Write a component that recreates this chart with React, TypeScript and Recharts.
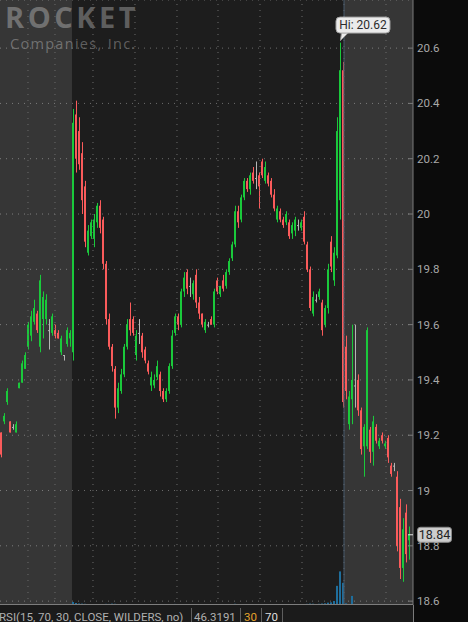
import React from 'react';
import { ComposedChart, Bar, XAxis, YAxis, CartesianGrid, ReferenceArea, ReferenceLine, ReferenceDot } from 'recharts';

// one bar per slot; null = no trade in that slot
const opens = [
  19.21, 19.25, 19.32, 19.25, 19.23, 19.21, 19.37, 19.39, 19.44, 19.52,
  19.56, 19.61, 19.64, 19.52, 19.62, 19.62, 19.58, 19.57, 19.58, 19.57,
  19.50, 19.49, 19.53, 19.55, 19.50, 20.36, 20.30, 20.22, 20.10, 19.86,
  19.92, 19.91, 19.97, 20.03, 19.98, 19.82, 19.62, 19.52, 19.44, 19.30,
  19.36, 19.42, 19.52, 19.62, 19.62, 19.49, 19.57, 19.56, 19.51, 19.46,
  19.38, 19.38, 19.41, 19.42, 19.36, 19.33, 19.36, 19.45, 19.57, 19.63,
  19.60, 19.72, 19.79, 19.74, 19.71, 19.78, 19.68, 19.64, 19.58, 19.60,
  19.62, 19.60, 19.76, 19.71, 19.76, 19.74, 19.79, 19.84, 19.89, 20.01,
  19.98, 20.06, 20.12, 20.09, 20.15, 20.13, 20.14, 20.19, 20.12, 20.14,
  20.12, 20.07, 19.98, 20.01, 19.98, 19.97, 19.97, 19.93, 19.94, 19.96,
  19.95, 19.99, 19.89, 19.80, 19.64, 19.69, 19.70, 19.68, 19.60, 19.66,
  19.90, 19.76, 19.85, 20.05, 20.52, 19.52, 19.24, 19.33, 19.38, 19.40,
  19.29, 19.16, 19.16, 19.22, 19.14, 19.23, 19.16, 19.20, 19.16, 19.19,
  19.09, 19.09, 19.05, 18.94, 18.72, 18.92, 18.82,
];
const highs = [
  19.21, 19.28, 19.37, 19.25, 19.24, 19.25, 19.39, 19.47, 19.50, 19.61,
  19.65, 19.69, 19.65, 19.78, 19.72, 19.71, 19.62, 19.64, 19.60, 19.58,
  19.56, 19.49, 19.59, 19.58, 20.38, 20.41, 20.35, 20.26, 20.12, 19.96,
  19.98, 20.00, 20.04, 20.05, 19.99, 19.83, 19.64, 19.53, 19.45, 19.39,
  19.44, 19.53, 19.62, 19.68, 19.63, 19.58, 19.62, 19.57, 19.52, 19.47,
  19.43, 19.42, 19.47, 19.43, 19.37, 19.37, 19.46, 19.58, 19.64, 19.64,
  19.73, 19.79, 19.80, 19.77, 19.76, 19.80, 19.70, 19.64, 19.62, 19.61,
  19.63, 19.73, 19.77, 19.74, 19.78, 19.80, 19.84, 19.90, 20.03, 20.03,
  20.07, 20.13, 20.13, 20.15, 20.17, 20.19, 20.15, 20.20, 20.19, 20.15,
  20.13, 20.09, 20.03, 20.02, 19.99, 20.01, 19.98, 19.97, 19.99, 19.98,
  19.98, 20.01, 19.90, 19.81, 19.72, 19.71, 19.73, 19.69, 19.67, 19.82,
  19.92, 19.88, 20.35, 20.62, 20.55, 19.56, 19.36, 19.60, 19.60, 19.42,
  19.30, 19.24, 19.59, 19.23, 19.27, 19.24, 19.19, 19.21, 19.18, 19.20,
  19.10, 19.10, 19.07, 18.97, 18.90, 18.95, 18.87,
];
const lows = [
  19.12, 19.24, 19.31, 19.21, 19.22, 19.21, 19.37, 19.39, 19.44, 19.51,
  19.54, 19.60, 19.57, 19.50, 19.55, 19.60, 19.51, 19.56, 19.55, 19.55,
  19.49, 19.47, 19.52, 19.52, 19.47, 20.15, 20.16, 20.00, 19.88, 19.85,
  19.91, 19.88, 19.95, 19.93, 19.80, 19.60, 19.51, 19.43, 19.26, 19.28,
  19.35, 19.41, 19.51, 19.56, 19.56, 19.47, 19.53, 19.48, 19.46, 19.42,
  19.36, 19.37, 19.40, 19.34, 19.32, 19.32, 19.35, 19.44, 19.56, 19.58,
  19.59, 19.70, 19.71, 19.70, 19.69, 19.66, 19.62, 19.59, 19.57, 19.59,
  19.60, 19.59, 19.71, 19.70, 19.72, 19.73, 19.78, 19.83, 19.88, 19.95,
  19.97, 20.05, 20.08, 20.07, 20.11, 20.09, 20.02, 20.13, 20.11, 20.10,
  20.06, 20.01, 19.97, 19.97, 19.95, 19.96, 19.91, 19.91, 19.92, 19.94,
  19.94, 19.89, 19.79, 19.65, 19.63, 19.68, 19.69, 19.56, 19.59, 19.64,
  19.79, 19.74, 19.84, 19.98, 19.30, 19.33, 19.22, 19.24, 19.30, 19.27,
  19.13, 19.05, 19.15, 19.10, 19.09, 19.17, 19.15, 19.17, 19.15, 19.10,
  19.05, 19.07, 18.78, 18.68, 18.67, 18.74, 18.75,
];
const closes = [
  19.13, 19.27, 19.36, 19.21, 19.23, 19.24, 19.39, 19.46, 19.49, 19.60,
  19.63, 19.66, 19.58, 19.76, 19.70, 19.69, 19.58, 19.63, 19.56, 19.55,
  19.55, 19.49, 19.58, 19.57, 20.33, 20.20, 20.18, 20.05, 19.90, 19.94,
  19.97, 19.98, 20.03, 19.95, 19.82, 19.62, 19.52, 19.45, 19.30, 19.37,
  19.42, 19.52, 19.60, 19.58, 19.57, 19.56, 19.57, 19.50, 19.47, 19.43,
  19.41, 19.40, 19.45, 19.36, 19.33, 19.36, 19.45, 19.56, 19.63, 19.60,
  19.72, 19.77, 19.73, 19.74, 19.75, 19.68, 19.64, 19.60, 19.61, 19.60,
  19.60, 19.72, 19.72, 19.74, 19.73, 19.79, 19.83, 19.89, 20.01, 19.97,
  20.06, 20.12, 20.09, 20.14, 20.12, 20.13, 20.10, 20.14, 20.17, 20.11,
  20.07, 20.02, 20.02, 19.98, 19.96, 20.00, 19.92, 19.96, 19.98, 19.96,
  19.97, 19.90, 19.80, 19.66, 19.70, 19.69, 19.72, 19.58, 19.66, 19.80,
  19.81, 19.86, 20.30, 20.52, 19.32, 19.36, 19.34, 19.40, 19.38, 19.29,
  19.15, 19.23, 19.58, 19.14, 19.25, 19.18, 19.18, 19.18, 19.17, 19.12,
  19.06, 19.09, 18.80, 18.72, 18.86, 18.77, 18.84,
];
const volumes = [
  600, 400, 500, 300, 200, 300, 500, 400, 600, 700,
  800, 900, 500, 1500, 900, 700, 600, 500, 400, 400,
  500, 300, 600, 700, 9000, 6000, 4500, 4000, 3500, 3000,
  2600, 2400, 2800, 2200, 3000, 3400, 3200, 4000, 3600, 2800,
  2400, 2600, 3000, 2800, 2200, 2600, 2000, 2400, 2200, 2000,
  2600, 2400, 2200, 2800, 3000, 2600, 2400, 2800, 3200, 2600,
  2400, 2200, 2000, 2400, 2600, 2200, 2000, 1800, 2200, 2400,
  2000, 2600, 2200, 2000, 2400, 2600, 2800, 3000, 3600, 2600,
  2400, 2800, 2200, 2400, 2000, 2200, 2600, 2800, 2400, 2200,
  2000, 2400, 2200, 2000, 1800, 2200, 2400, 2000, 2200, 2600,
  2400, 3000, 3400, 4200, 3800, 3000, 3600, 4400, 5000, 7000,
  8000, 12000, 57000, 100000, 66000, 5000, 2000, 27000, 3000, 1500,
  1500, 1200, 2000, 1500, 1200, 1000, 1000, 1200, 1000, 1500,
  1200, 1000, 2000, 1800, 1500, 1200, 1000,
];

const priceTicks = [18.6, 18.8, 19, 19.2, 19.4, 19.6, 19.8, 20, 20.2, 20.4, 20.6];
const hourMarks = [9.33, 18.33, 31, 45, 59, 72.67, 86.67, 100.67, 114.67, 128.67];
const sessionOpen = 24;
const sessionClose = 114.67;
const slotSpan = 137.67;
const dayHigh = 20.62;
const dayHighSlot = 113.5;
const lastPrice = 18.84;

const GREEN = '#1ac93b';
const RED = '#fa5b5b';
const GRAY = '#b5b5b5';

const data = opens.map((o, i) => ({
  t: i + 0.5,
  o,
  h: highs[i],
  l: lows[i],
  c: closes[i],
  range: [lows[i], highs[i]],
  vol: volumes[i],
}));

const Candle = (props: any) => {
  const { x, y, width, height, payload } = props;
  if (!payload || payload.o == null) return null;
  const { o, h, l, c } = payload;
  const mid = Math.round(x + width / 2);
  const top = Math.min(y, y + height);
  const span = Math.abs(height);
  const k = h > l ? span / (h - l) : 0;
  const yo = top + (h - o) * k;
  const yc = top + (h - c) * k;
  const color = c > o ? GREEN : c < o ? RED : GRAY;
  const bodyTop = Math.min(yo, yc);
  const bodyH = Math.max(1, Math.abs(yo - yc));
  return (
    <g>
      <rect x={mid} y={top} width={1} height={Math.max(1, span)} fill={color} />
      <rect x={mid - 1} y={bodyTop} width={2} height={bodyH} fill={color} />
    </g>
  );
};

const PriceTick = ({ x, y, payload }: any) => (
  <g>
    <line x1={x - 5} x2={x} y1={y} y2={y} stroke="#7a7a7a" />
    <text x={x + 4} y={y + 4} fill="#a8a8a8" fontSize={11.5} fontFamily="Roboto">
      {payload.value}
    </text>
  </g>
);

const HiTag = ({ cx, cy }: any) => (
  <g>
    <path d={`M${cx} ${cy - 2} L${cx + 1} ${cy - 10} L${cx + 8} ${cy - 10} Z`} fill="#ebebeb" stroke="#9a9a9a" />
    <rect x={cx - 4.5} y={cy - 25.5} width={54} height={16} rx={4} fill="#ebebeb" stroke="#a0a0a0" />
    <text x={cx + 22.5} y={cy - 13.5} textAnchor="middle" fontSize={12} fontFamily="Roboto" fill="#2c2c2c">
      {`Hi: ${dayHigh}`}
    </text>
  </g>
);

const LastTag = ({ cx, cy }: any) => (
  <g>
    <line x1={cx - 5} x2={cx} y1={cy} y2={cy} stroke="#e4e4e4" />
    <rect x={cx + 4.5} y={cy - 7.5} width={34} height={15} rx={3} fill="#cdcdcd" stroke="#8a8a8a" />
    <text x={cx + 21.5} y={cy + 4.5} textAnchor="middle" fontSize={12.5} fontFamily="Roboto" fill="#222">
      {lastPrice}
    </text>
  </g>
);

const cell = (left: number, width: number, text: string, color: string) => (
  <div style={{ position: 'absolute', left, top: 6, width, height: 14, color, fontSize: 11.5, lineHeight: '12px', whiteSpace: 'nowrap' }}>
    {text}
  </div>
);

export default function App() {
  return (
    <div style={{ position: 'absolute', left: 0, top: 0, width: 468, height: 622, background: '#0b0b0b', overflow: 'hidden', fontFamily: 'Roboto, sans-serif' }}>
      <div style={{ position: 'absolute', left: 0, top: 0, width: 413, height: 605, background: '#1d1d1d' }} />
      <div style={{ position: 'absolute', left: 5, top: 4, fontFamily: '"Open Sans"', fontWeight: 700, fontSize: 29, lineHeight: '26px', letterSpacing: 3.5, color: 'rgba(140,140,140,0.6)' }}>
        ROCKET
      </div>
      <div style={{ position: 'absolute', left: 10, top: 36, fontFamily: '"Open Sans"', fontSize: 14.5, lineHeight: '15px', letterSpacing: 1.3, color: 'rgba(140,140,140,0.6)' }}>
        Companies, Inc.
      </div>
      <div style={{ position: 'absolute', left: 0, top: 0 }}>
        <ComposedChart width={468} height={622} data={data} margin={{ top: 0, right: 0, bottom: 17, left: 0 }}>
          <XAxis xAxisId={0} dataKey="t" type="number" domain={[0, slotSpan]} allowDataOverflow hide />
          <XAxis xAxisId="v" dataKey="t" type="number" domain={[0, slotSpan]} allowDataOverflow hide />
          <YAxis
            yAxisId={0}
            orientation="right"
            width={55}
            domain={[18.586, 20.774]}
            ticks={priceTicks}
            interval={0}
            allowDataOverflow
            axisLine={{ stroke: '#7a7a7a' }}
            tickLine={false}
            tickSize={0}
            tickMargin={0}
            tick={<PriceTick />}
          />
          <YAxis yAxisId="v" domain={[0, 1800000]} hide />
          <ReferenceArea x1={0} x2={sessionOpen} fill="#ffffff" fillOpacity={0.115} stroke="none" />
          <ReferenceArea x1={sessionClose} x2={slotSpan} fill="#ffffff" fillOpacity={0.115} stroke="none" />
          <CartesianGrid stroke="#6c6c6c" strokeDasharray="1 5" vertical={false} />
          {hourMarks.map((m) => (
            <ReferenceLine key={m} x={m} stroke="#6c6c6c" strokeDasharray="1 5" />
          ))}
          <ReferenceLine x={sessionClose} stroke="#46596a" />
          <Bar xAxisId="v" yAxisId="v" dataKey="vol" barSize={2} fill="#1f6e9c" isAnimationActive={false} />
          <Bar dataKey="range" barSize={2} shape={<Candle />} isAnimationActive={false} />
          <ReferenceDot x={dayHighSlot} y={dayHigh} shape={<HiTag />} />
          <ReferenceDot x={slotSpan} y={lastPrice} shape={<LastTag />} />
        </ComposedChart>
      </div>
      <div style={{ position: 'absolute', left: 0, top: 604, width: 413, height: 18, borderTop: '1px solid #7d7d7d', background: '#1b1b1b' }}>
        {cell(-1, 190, 'RSI(15, 70, 30, CLOSE, WILDERS, no)', '#b0b0b0')}
        {cell(194, 45, '46.3191', '#b0b0b0')}
        {cell(244, 16, '30', '#e3a22c')}
        {cell(265, 16, '70', '#dedede')}
        {[191, 240, 261, 282].map((l) => (
          <div key={l} style={{ position: 'absolute', left: l, top: 3, width: 1, height: 15, background: '#5e5e5e' }} />
        ))}
      </div>
      <div style={{ position: 'absolute', left: 413, top: 605, width: 1, height: 17, background: '#7a7a7a' }} />
    </div>
  );
}
